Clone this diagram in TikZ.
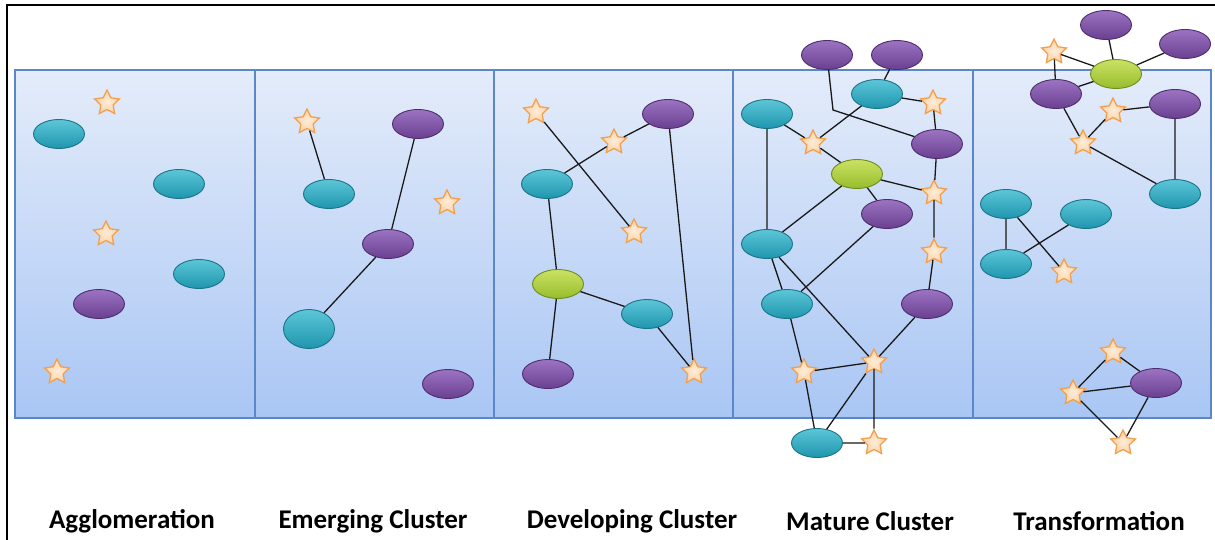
\documentclass[tikz,border=0pt]{standalone}
\usepackage{fontspec}
\setmainfont{Carlito}
\usepackage{tikz}
\usetikzlibrary{shapes.geometric}

\definecolor{panelline}{HTML}{5B87C8}
\definecolor{paneltop}{HTML}{E4ECFA}
\definecolor{panelbot}{HTML}{A9C6F4}
\definecolor{cyantop}{HTML}{5CC6D8}
\definecolor{cyanbot}{HTML}{1F96AE}
\definecolor{cyanline}{HTML}{1A7486}
\definecolor{purptop}{HTML}{9C74C2}
\definecolor{purpbot}{HTML}{6A3F90}
\definecolor{purpline}{HTML}{4E2C6E}
\definecolor{greentop}{HTML}{CAE264}
\definecolor{greenbot}{HTML}{98BC2C}
\definecolor{greenline}{HTML}{6E8C1C}
\definecolor{starline}{HTML}{F2A04E}
\definecolor{starfill}{HTML}{FBD2A4}

\begin{document}
\begin{tikzpicture}[x=1pt, y=-1pt,
    panel/.style={draw=panelline, line width=1.5pt, top color=paneltop, bottom color=panelbot},
    blob/.style={ellipse, minimum width=51pt, minimum height=29pt, inner sep=0pt, line width=0.9pt},
    cyanblob/.style={blob, draw=cyanline, top color=cyantop, bottom color=cyanbot},
    purpleblob/.style={blob, draw=purpline, top color=purptop, bottom color=purpbot},
    greenblob/.style={blob, draw=greenline, top color=greentop, bottom color=greenbot},
    starnode/.style={star, star points=5, star point ratio=2.0, minimum size=26pt, inner sep=0pt,
        draw=starline, line width=1.3pt, inner color=starfill!40!white, outer color=starfill},
    link/.style={line width=1.3pt, black!90},
    caption/.style={font=\fontsize{27}{32}\selectfont\bfseries}]
    \useasboundingbox (0,0) rectangle (1215,540);

    % Frame
    \draw[line width=2.5pt] (7,540) -- (7,5) -- (1215,5);

    % Panels
    \draw[panel] (15,70) rectangle (255,418);
    \draw[panel] (255,70) rectangle (494,418);
    \draw[panel] (494,70) rectangle (733,418);
    \draw[panel] (733,70) rectangle (973,418);
    \draw[panel] (973,70) rectangle (1211,418);

    % Agglomeration
    \node[cyanblob] (p1c1) at (59,134) {};
    \node[cyanblob] (p1c2) at (179,184) {};
    \node[cyanblob] (p1c3) at (199,274) {};
    \node[purpleblob] (p1p1) at (99,304) {};
    \node[starnode] (p1s1) at (107,103) {};
    \node[starnode] (p1s2) at (106,234) {};
    \node[starnode] (p1s3) at (57,372) {};

    % Emerging cluster
    \node[starnode] (p2s1) at (307,122) {};
    \node[purpleblob] (p2p1) at (418,124) {};
    \node[cyanblob] (p2c1) at (329,194) {};
    \node[starnode] (p2s2) at (447,203) {};
    \node[purpleblob] (p2p2) at (388,244) {};
    \node[cyanblob, minimum height=39pt] (p2c2) at (309,329) {};
    \node[purpleblob] (p2p3) at (448,384) {};
    \draw[link] (p2s1) -- (p2c1) (p2p1) -- (p2p2) (p2p2) -- (p2c2);

    % Developing cluster
    \node[starnode] (p3s1) at (536,112) {};
    \node[purpleblob] (p3p1) at (668,114) {};
    \node[starnode] (p3s2) at (614,142) {};
    \node[cyanblob] (p3c1) at (547,184) {};
    \node[starnode] (p3s3) at (634,232) {};
    \node[greenblob] (p3g1) at (558,284) {};
    \node[cyanblob] (p3c2) at (647,314) {};
    \node[purpleblob] (p3p2) at (548,374) {};
    \node[starnode] (p3s4) at (694,372) {};
    \draw[link] (p3s1) -- (p3s3) (p3c1) -- (p3s2) (p3s2) -- (p3p1) (p3p1) -- (p3s4)
        (p3c1) -- (p3g1) (p3g1) -- (p3c2) (p3c2) -- (p3s4) (p3g1) -- (p3p2);

    % Mature cluster
    \node[purpleblob] (p4p1) at (827,55) {};
    \node[purpleblob] (p4p2) at (897,55) {};
    \node[cyanblob] (p4c1) at (877,94) {};
    \node[starnode] (p4s1) at (933,103) {};
    \node[cyanblob] (p4c2) at (767,114) {};
    \node[starnode] (p4s2) at (813,143) {};
    \node[purpleblob] (p4p3) at (937,144) {};
    \node[greenblob] (p4g1) at (857,174) {};
    \node[starnode] (p4s3) at (934,193) {};
    \node[purpleblob] (p4p4) at (887,214) {};
    \node[cyanblob] (p4c3) at (767,244) {};
    \node[starnode] (p4s4) at (934,252) {};
    \node[cyanblob] (p4c4) at (787,304) {};
    \node[purpleblob] (p4p5) at (927,304) {};
    \node[starnode] (p4s5) at (804,372) {};
    \node[starnode] (p4s6) at (874,362) {};
    \node[cyanblob] (p4c5) at (817,443) {};
    \node[starnode] (p4s7) at (874,443) {};
    \coordinate (p4bend) at (833,110);
    \draw[link] (p4p1) -- (p4bend) -- (p4p3);
    \draw[link] (p4p2) -- (p4c1) (p4c1) -- (p4s2) (p4c1) -- (p4s1) (p4s1) -- (p4p3)
        (p4c2) -- (p4s2) (p4s2) -- (p4g1) (p4c2) -- (p4c3) (p4g1) -- (p4s3)
        (p4p3) -- (p4s3) (p4g1) -- (p4p4) (p4g1) -- (p4c3) (p4s3) -- (p4s4)
        (p4s4) -- (p4p5) (p4p4) -- (p4c4) (p4c3) -- (p4c4) (p4c3) -- (p4s6)
        (p4c4) -- (p4s5) (p4s5) -- (p4s6) (p4p5) -- (p4s6) (p4s5) -- (p4c5)
        (p4s6) -- (p4c5) (p4s6) -- (p4s7) (p4c5) -- (p4s7);

    % Transformation
    \node[purpleblob] (p5p1) at (1106,25) {};
    \node[purpleblob] (p5p2) at (1185,44) {};
    \node[starnode] (p5s1) at (1054,52) {};
    \node[greenblob] (p5g1) at (1116,74) {};
    \node[purpleblob] (p5p3) at (1056,94) {};
    \node[purpleblob] (p5p4) at (1175,104) {};
    \node[starnode] (p5s2) at (1113,111) {};
    \node[starnode] (p5s3) at (1083,143) {};
    \node[cyanblob] (p5c1) at (1175,194) {};
    \node[cyanblob] (p5c2) at (1006,204) {};
    \node[cyanblob] (p5c3) at (1086,214) {};
    \node[cyanblob] (p5c4) at (1006,264) {};
    \node[starnode] (p5s4) at (1064,272) {};
    \node[starnode] (p5s5) at (1113,352) {};
    \node[purpleblob] (p5p5) at (1156,383) {};
    \node[starnode] (p5s6) at (1073,393) {};
    \node[starnode] (p5s7) at (1123,443) {};
    \draw[link] (p5s1) -- (p5g1) (p5s1) -- (p5p3) (p5p1) -- (p5g1) (p5p2) -- (p5g1)
        (p5p3) -- (p5g1) (p5p3) -- (p5s3) (p5s3) -- (p5s2) (p5s2) -- (p5p4)
        (p5p4) -- (p5c1) (p5s3) -- (p5c1) (p5c2) -- (p5c4) (p5c2) -- (p5s4)
        (p5c4) -- (p5c3) (p5s5) -- (p5p5) (p5s5) -- (p5s6) (p5s6) -- (p5p5)
        (p5s6) -- (p5s7) (p5p5) -- (p5s7);

    % Labels
    \node[caption] (l1) at (132,521) {Agglomeration};
    \node[caption] (l2) at (373,521) {Emerging Cluster};
    \node[caption] (l3) at (632,521) {Developing Cluster};
    \node[caption] (l4) at (870,521) {Mature Cluster};
    \node[caption] (l5) at (1099,521) {Transformation};
\end{tikzpicture}
\end{document}
